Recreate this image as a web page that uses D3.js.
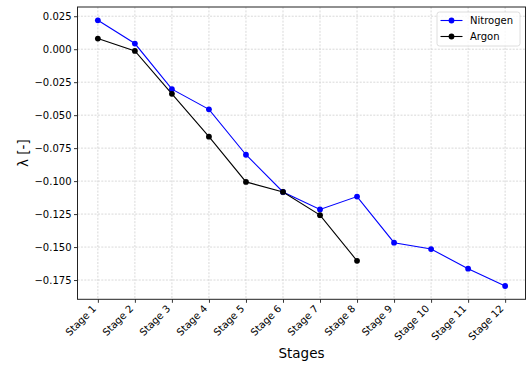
<!DOCTYPE html>
<html>
<head>
<meta charset="utf-8">
<script src="https://cdn.jsdelivr.net/npm/d3@7"></script>
<style>
  html, body { margin: 0; padding: 0; background: #fff; }
  svg { display: block; font-family: "DejaVu Sans", sans-serif; }
</style>
</head>
<body>
<svg id="chart" width="526" height="365"></svg>
<script>
// stage names along the x axis
const stages = ['Stage 1', 'Stage 2', 'Stage 3', 'Stage 4', 'Stage 5', 'Stage 6',
  'Stage 7', 'Stage 8', 'Stage 9', 'Stage 10', 'Stage 11', 'Stage 12'];

// lambda per stage
const nitrogen = [0.0219, 0.0043, -0.0303, -0.0456, -0.0800, -0.1082,
  -0.1215, -0.1117, -0.1467, -0.1515, -0.1664, -0.1795];
const argon = [0.0081, -0.0013, -0.0338, -0.0663, -0.1006, -0.1082,
  -0.1258, -0.1604];

const yTicks = [0.025, 0.0, -0.025, -0.05, -0.075, -0.1, -0.125, -0.15, -0.175];

const series = [
  { name: 'Nitrogen', values: nitrogen, color: '#0000ff' },
  { name: 'Argon', values: argon, color: '#000000' }
];

const FONT = '"DejaVu Sans", sans-serif';
const plot = { left: 77.5, right: 525.5, top: 7, bottom: 299.3 };

const svg = d3.select('#chart');

const x = d3.scaleLinear()
  .domain([-0.55, stages.length - 1 + 0.55])
  .range([plot.left, plot.right]);

const y = d3.scaleLinear()
  .domain([-0.1896, 0.0320])
  .range([plot.bottom, plot.top]);

// grid
const grid = svg.append('g').attr('class', 'grid');
stages.forEach((s, i) => {
  grid.append('line')
    .attr('x1', x(i)).attr('x2', x(i))
    .attr('y1', plot.top).attr('y2', plot.bottom);
});
yTicks.forEach(t => {
  grid.append('line')
    .attr('x1', plot.left).attr('x2', plot.right)
    .attr('y1', y(t)).attr('y2', y(t));
});
grid.selectAll('line')
  .attr('stroke', '#cfcfcf')
  .attr('stroke-width', 0.8)
  .attr('stroke-dasharray', '2,1.4');

// axes
const xAxis = d3.axisBottom(x)
  .tickValues(d3.range(stages.length))
  .tickFormat(i => stages[i])
  .tickSizeOuter(0)
  .tickSizeInner(3.5);

const gx = svg.append('g')
  .attr('transform', `translate(0,${plot.bottom})`)
  .call(xAxis)
  .attr('font-family', FONT)
  .attr('font-size', 10);
gx.select('.domain').remove();
gx.selectAll('.tick line').attr('stroke', '#000').attr('stroke-width', 0.8);
gx.selectAll('.tick text')
  .attr('fill', '#000')
  .attr('text-anchor', 'end')
  .attr('y', 0)
  .attr('dy', 0)
  .attr('transform', 'translate(-1.5,10) rotate(-45)');

const yAxis = d3.axisLeft(y)
  .tickValues(yTicks)
  .tickFormat(d => d3.format('.3f')(d).replace('-', '\u2212'))
  .tickSizeOuter(0)
  .tickSizeInner(3.5);

const gy = svg.append('g')
  .attr('transform', `translate(${plot.left},0)`)
  .call(yAxis)
  .attr('font-family', FONT)
  .attr('font-size', 10);
gy.select('.domain').remove();
gy.selectAll('.tick line').attr('stroke', '#000').attr('stroke-width', 0.8);
gy.selectAll('.tick text')
  .attr('fill', '#000')
  .attr('x', -6);

// lines and markers
const line = d3.line()
  .x((d, i) => x(i))
  .y(d => y(d));

series.forEach(s => {
  svg.append('path')
    .datum(s.values)
    .attr('fill', 'none')
    .attr('stroke', s.color)
    .attr('stroke-width', 1.1)
    .attr('d', line);

  svg.append('g')
    .selectAll('circle')
    .data(s.values)
    .join('circle')
    .attr('cx', (d, i) => x(i))
    .attr('cy', d => y(d))
    .attr('r', 2.9)
    .attr('fill', s.color);
});

// spines
svg.append('rect')
  .attr('x', plot.left).attr('y', plot.top)
  .attr('width', plot.right - plot.left)
  .attr('height', plot.bottom - plot.top)
  .attr('fill', 'none')
  .attr('stroke', '#222')
  .attr('stroke-width', 1);

// legend
const legend = svg.append('g').attr('transform', 'translate(437,12)');
legend.append('rect')
  .attr('width', 83).attr('height', 34)
  .attr('rx', 2.5)
  .attr('fill', 'rgba(255,255,255,0.8)')
  .attr('stroke', '#d6d6d6')
  .attr('stroke-width', 0.8);

series.forEach((s, i) => {
  const ly = 8.5 + i * 16;
  legend.append('line')
    .attr('x1', 3.5).attr('x2', 25.5)
    .attr('y1', ly).attr('y2', ly)
    .attr('stroke', s.color)
    .attr('stroke-width', 1.1);
  legend.append('circle')
    .attr('cx', 14.5).attr('cy', ly).attr('r', 2.9)
    .attr('fill', s.color);
  legend.append('text')
    .attr('x', 33).attr('y', ly)
    .attr('dy', '0.35em')
    .attr('font-size', 10)
    .attr('fill', '#000')
    .text(s.name);
});

// axis labels
svg.append('text')
  .attr('x', (plot.left + plot.right) / 2)
  .attr('y', 358)
  .attr('text-anchor', 'middle')
  .attr('font-size', 13.5)
  .attr('fill', '#000')
  .text('Stages');

svg.append('text')
  .attr('transform', `translate(28,${(plot.top + plot.bottom) / 2}) rotate(-90)`)
  .attr('text-anchor', 'middle')
  .attr('font-size', 13.5)
  .attr('fill', '#000')
  .text('λ [-]');
</script>
</body>
</html>
